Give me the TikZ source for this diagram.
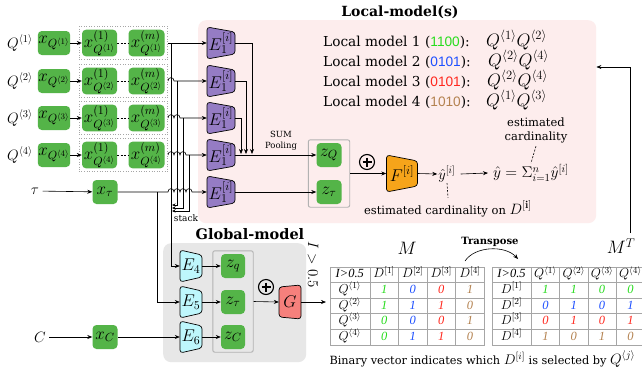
\documentclass[tikz,border=0pt]{standalone}
\usepackage{fix-cm}
\usepackage[no-math]{fontspec}
\setmainfont{DejaVu Serif}
\setsansfont{Liberation Sans}
\newfontfamily\tabfont{Liberation Serif}
\usetikzlibrary{arrows.meta,matrix,calc,fit}
\definecolor{boxgreen}{RGB}{84,180,72}
\definecolor{pinkbg}{RGB}{253,237,237}
\definecolor{graybg}{RGB}{231,231,231}
\definecolor{purp}{RGB}{149,124,196}
\definecolor{cyanb}{RGB}{190,247,252}
\definecolor{orng}{RGB}{246,164,26}
\definecolor{redb}{RGB}{246,128,124}
\definecolor{vgreen}{RGB}{40,220,30}
\definecolor{vblue}{RGB}{30,80,255}
\definecolor{vred}{RGB}{255,40,30}
\definecolor{vbrown}{RGB}{180,130,80}
\newcommand\hop[2]{-- ({#1-3},#2) .. controls ({#1-3},{#2-4.5}) and ({#1+3},{#2-4.5}) .. ({#1+3},#2)}
\newcommand\trap[8]{%
  \draw[fill=#7, line width=0.7pt, rounded corners=3pt] ({#2-#4/2},{#3-#5}) -- ({#2+#4/2},{#3-#6}) -- ({#2+#4/2},{#3+#6}) -- ({#2-#4/2},{#3+#5}) -- cycle;
  \node[inner sep=0pt, minimum width=#4, minimum height={2*#6}, font=\fontsize{17}{18}\selectfont] (#1) at (#2,#3) {#8};}
\newcommand\tm[1]{{\fontsize{13}{13}\selectfont$#1$}}
\tikzset{
  every node/.style={font=\fontsize{13}{15}\selectfont},
  gbox/.style={fill=boxgreen, rounded corners=4pt, inner sep=0.5pt, minimum width=30pt, minimum height=24pt, font=\fontsize{17}{18}\selectfont},
  conn/.style={line width=0.6pt, -{Stealth[length=5pt,width=4pt]}},
  sconn/.style={line width=0.6pt, -{Stealth[length=3.5pt,width=3pt]}},
  dotgrp/.style={draw=gray!70, dotted, line width=0.6pt, inner sep=3pt},
  zgrp/.style={draw=gray!60, line width=0.9pt, rounded corners=2pt, inner xsep=8pt, inner ysep=3pt},
  dashln/.style={line width=0.6pt, dash pattern=on 2pt off 1.5pt},
  lmtext/.style={anchor=west, inner sep=0pt, font=\fontsize{13.7}{15}\selectfont},
  lmq/.style={anchor=west, inner sep=0pt, font=\fontsize{18}{19}\selectfont},
  tbl/.style={matrix of nodes, nodes={draw=gray!70, line width=0.6pt, minimum height=15.6pt, minimum width=28.6pt, inner sep=0pt, text height=9pt, text depth=2.5pt, font=\fontsize{12.5}{13}\tabfont\itshape},
    column 1/.style={nodes={minimum width=40pt}}, column sep=-0.6pt, row sep=-0.6pt},
  cg/.style={text=vgreen}, cb/.style={text=vblue}, cr/.style={text=vred}, cn/.style={text=vbrown}
}
\begin{document}
\begin{tikzpicture}[x=1pt,y=-1pt]
\fill[white] (0,0) rectangle (642,373);
\useasboundingbox (0,0) rectangle (642,373);
% backgrounds
\node[fill=pinkbg, rounded corners=8pt, minimum width=398pt, minimum height=203pt, inner sep=0pt, anchor=north west] (lbox) at (198,20) {};
\node[fill=graybg, rounded corners=8pt, minimum width=143pt, minimum height=119pt, inner sep=0pt, anchor=north west] (gbx) at (163,243) {};
\node[font=\fontsize{14}{16}\selectfont\bfseries] (ltitle) at (400,12) {Local-model(s)};
\node[font=\fontsize{14.5}{16}\selectfont\bfseries] (gtitle) at (250,234) {Global-model};
% input rows
\foreach \i/\y in {1/43,2/81,3/118,4/155}{
  \node[font=\fontsize{15}{16}\selectfont] (q\i) at (20,\y) {$Q^{\langle\i\rangle}$};
  \node[gbox, minimum width=31pt] (xq\i) at (54,\y) {$x_{Q^{\langle\i\rangle}}$};
  \node[gbox, minimum width=35pt] (xa\i) at (99.5,\y) {$x^{(1)}_{Q^{\langle\i\rangle}}$};
  \node[gbox, minimum width=36pt] (xm\i) at (146.5,\y) {$x^{(m)}_{Q^{\langle\i\rangle}}$};
  \node[dotgrp, fit=(xa\i)(xm\i)] (grp\i) {};
  \draw[conn] (xq\i) -- (xa\i);
  \draw[dashln] (xa\i) -- (xm\i);
  \trap{e\i}{221}{\y}{28}{16}{11}{purp}{$E_1^{[i]}$}
}
\node[font=\fontsize{15}{16}\selectfont] (tlab) at (35,191) {$\tau$};
\node[gbox, minimum width=25pt] (xt) at (105,192) {$x_\tau$};
\draw[conn] (tlab) -- (xt);
\trap{e5}{221}{192}{28}{16}{11}{purp}{$E_1^{[i]}$}
% row connectors with hops
\draw[conn] (grp1.east) -- (e1.west);
\draw[conn] (grp2.east) \hop{171}{81} -- (e2.west);
\draw[conn] (grp3.east) \hop{171}{118}\hop{177}{118} -- (e3.west);
\draw[conn] (grp4.east) \hop{171}{155}\hop{177}{155}\hop{183}{155} -- (e4.west);
\draw[conn] (xt.east) \hop{171}{192}\hop{177}{192}\hop{183}{192}\hop{189}{192} -- (e5.west);
% stack
\coordinate (b1) at (171,43);
\coordinate (b2) at (177,81); \coordinate (s2) at (172,205);
\coordinate (b3) at (183,118); \coordinate (s3) at (172,208);
\coordinate (b4) at (189,155); \coordinate (s4) at (172,211);
\draw[sconn] (b2) |- (s2);
\draw[sconn] (b3) |- (s3);
\draw[sconn] (b4) |- (s4);
\node[font=\fontsize{9}{10}\selectfont] (stk) at (186,218) {stack};
\coordinate (tb) at (157,192);
% sum pooling
\coordinate (p1) at (252,154); \coordinate (p2) at (246,154); \coordinate (p3) at (241,154);
\draw[conn] (e1.east) -| (p1);
\draw[conn] (e2.east) -| (p2);
\draw[conn] (e3.east) -| (p3);
\node[font=\fontsize{8.5}{11}\selectfont, align=center] (sumpool) at (281,141) {SUM\\Pooling};
\node[gbox, minimum width=25pt] (zq) at (329,155) {$z_Q$};
\node[gbox, minimum width=25pt] (zt) at (329,192) {$z_\tau$};
\node[zgrp, fit=(zq)(zt)] (zg) {};
\draw[conn] (e4.east) -- (zq.west);
\draw[conn] (e5.east) -- (zt.west);
\trap{f}{402}{173.5}{31}{18.5}{12.5}{orng}{$F^{[i]}$}
\draw[conn] (zg.east) -- (f.west);
\node[circle, draw, line width=1.1pt, minimum size=15pt, inner sep=0pt] (op1) at (367,162) {};
\draw[line width=1.1pt] ($(op1.center)+(-4.5,0)$) -- ($(op1.center)+(4.5,0)$) ($(op1.center)+(0,-4.5)$) -- ($(op1.center)+(0,4.5)$);
\node[font=\fontsize{14.5}{15}\selectfont, inner sep=1pt] (yi) at (447,174) {$\hat{y}^{[i]}$};
\draw[conn] (f.east) -- (yi.west);
\node[font=\fontsize{15.5}{16}\selectfont, inner sep=1pt] (ysum) at (531,173) {$\hat{y}=\Sigma_{i=1}^{n}\hat{y}^{[i]}$};
\draw[conn] (yi.east) ++(4,0) -- ([xshift=-4pt]ysum.west);
\node[font=\fontsize{11.5}{13}\selectfont] (estD) at (448,209) {estimated cardinality on {\fontsize{15}{16}\selectfont$D^{[\mathbf{i}]}$}};
\draw[dashln] (yi.south) -- (estD.north);
\node[font=\fontsize{11.5}{14}\selectfont, align=center] (est) at (536,130) {estimated\\cardinality};
\draw[dashln] (est.south) -- (ysum.north);
% local model lines
\node[lmtext] (lm1) at (323,42) {Local model 1 (\textcolor{vgreen}{\sffamily 1100}):};
\node[lmtext] (lm2) at (323,62) {Local model 2 (\textcolor{vblue}{\sffamily 0101}):};
\node[lmtext] (lm3) at (323,82) {Local model 3 (\textcolor{vred}{\sffamily 0101}):};
\node[lmtext] (lm4) at (323,102) {Local model 4 (\textcolor{vbrown}{\sffamily 1010}):};
\node[lmq] (lq1) at (486,40) {$Q^{\langle1\rangle}Q^{\langle2\rangle}$};
\node[lmq] (lq2) at (488,60) {$Q^{\langle2\rangle}Q^{\langle4\rangle}$};
\node[lmq] (lq3) at (487,80) {$Q^{\langle2\rangle}Q^{\langle4\rangle}$};
\node[lmq] (lq4) at (486,100) {$Q^{\langle1\rangle}Q^{\langle3\rangle}$};
% global model
\node[font=\fontsize{15}{16}\selectfont] (clab) at (40,337) {$C$};
\node[gbox, minimum width=25pt] (xc) at (105,337) {$x_C$};
\draw[conn] (clab) -- (xc);
\trap{e4g}{191}{266}{22}{16}{11}{cyanb}{$E_4$}
\trap{e5g}{191}{302}{22}{16}{11}{cyanb}{$E_5$}
\trap{e6g}{191}{337}{22}{16}{11}{cyanb}{$E_6$}
\draw[conn] (b1) |- (e4g.west);
\draw[conn] (tb) |- (e5g.west);
\draw[conn] (xc) -- (e6g.west);
\node[gbox, minimum width=24pt] (zq2) at (233,266) {$z_q$};
\node[gbox, minimum width=24pt] (zt2) at (233,302) {$z_\tau$};
\node[gbox, minimum width=24pt] (zc2) at (233,337) {$z_C$};
\node[zgrp, fit=(zq2)(zc2)] (zg2) {};
\draw[conn] (e4g.east) -- (zq2.west);
\draw[conn] (e5g.east) -- (zt2.west);
\draw[conn] (e6g.east) -- (zc2.west);
\node[circle, draw, line width=1.1pt, minimum size=15pt, inner sep=0pt] (op2) at (266,287) {};
\draw[line width=1.1pt] ($(op2.center)+(-4.5,0)$) -- ($(op2.center)+(4.5,0)$) ($(op2.center)+(0,-4.5)$) -- ($(op2.center)+(0,4.5)$);
\trap{gg}{290}{302}{22}{15}{17}{redb}{$G$}
\draw[conn] (zg2.east) -- (gg.west);
\node[rotate=-90, font=\fontsize{15}{16}\selectfont] (thr) at (313,265) {$I>0.5$};
% tables
\matrix (M) [tbl, anchor=north west] at (326,263) {
  I>0.5 & \tm{D^{[1]}} & \tm{D^{[2]}} & \tm{D^{[3]}} & \tm{D^{[4]}} \\
  \tm{Q^{\langle1\rangle}} & |[cg]| 1 & |[cb]| 0 & |[cr]| 0 & |[cn]| 1 \\
  \tm{Q^{\langle2\rangle}} & |[cg]| 1 & |[cb]| 1 & |[cr]| 1 & |[cn]| 0 \\
  \tm{Q^{\langle3\rangle}} & |[cg]| 0 & |[cb]| 0 & |[cr]| 0 & |[cn]| 1 \\
  \tm{Q^{\langle4\rangle}} & |[cg]| 0 & |[cb]| 1 & |[cr]| 1 & |[cn]| 0 \\
};
\matrix (MT) [tbl, anchor=north west, column 1/.style={nodes={minimum width=39.5pt}}, nodes={minimum width=28.3pt}] at (488,263) {
  I>0.5 & \tm{Q^{\langle1\rangle}} & \tm{Q^{\langle2\rangle}} & \tm{Q^{\langle3\rangle}} & \tm{Q^{\langle4\rangle}} \\
  \tm{D^{[1]}} & |[cg]| 1 & |[cg]| 1 & |[cg]| 0 & |[cg]| 0 \\
  \tm{D^{[2]}} & |[cb]| 0 & |[cb]| 1 & |[cb]| 0 & |[cb]| 1 \\
  \tm{D^{[3]}} & |[cr]| 0 & |[cr]| 1 & |[cr]| 0 & |[cr]| 1 \\
  \tm{D^{[4]}} & |[cn]| 1 & |[cn]| 0 & |[cn]| 1 & |[cn]| 0 \\
};
\draw[conn] (gg.east) -- (gg.east -| M.west);
\node[font=\fontsize{18}{19}\selectfont] (Mlab) at (407,248) {$M$};
\node[font=\fontsize{18}{19}\selectfont] (MTlab) at (621,246) {$M^T$};
\node[font=\fontsize{10}{12}\selectfont\bfseries] (trans) at (490,242) {Transpose};
\coordinate (tr1) at (465,261); \coordinate (tr2) at (518,259);
\draw[conn] (tr1) .. controls (475,246) and (505,245) .. (tr2);
\coordinate (rt1) at (630,233); \coordinate (rt2) at (630,67);
\draw[conn] (rt1) -- (rt2) -- (rt2 -| lbox.east);
\node[anchor=west, font=\fontsize{11.3}{12}\selectfont] (note) at (326,359) {Binary vector indicates which {\fontsize{14}{15}\selectfont$D^{[i]}$} is selected by {\fontsize{15}{16}\selectfont$Q^{\langle j\rangle}$}};
\end{tikzpicture}
\end{document}
